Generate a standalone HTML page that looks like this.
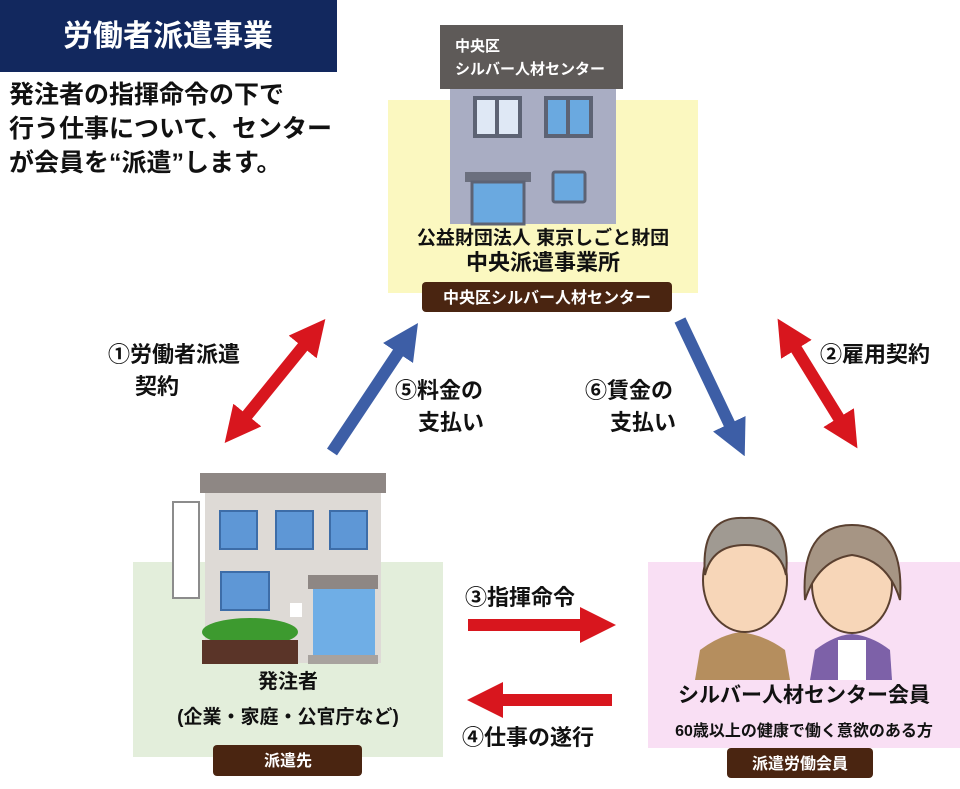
<!DOCTYPE html>
<html><head><meta charset="utf-8"><style>
body{margin:0;background:#fff}
svg text{font-family:"Liberation Sans","Noto Sans CJK JP",sans-serif;font-weight:bold}
</style></head><body>
<svg width="960" height="784" viewBox="0 0 960 784" xmlns="http://www.w3.org/2000/svg">
<defs>
<marker id="r" viewBox="0 0 10 10" refX="5" refY="5" markerWidth="3" markerHeight="3" orient="auto-start-reverse"><path d="M0,0L10,5L0,10z" fill="#d8161e"/></marker>
<marker id="b" viewBox="0 0 10 10" refX="5" refY="5" markerWidth="3" markerHeight="3" orient="auto-start-reverse"><path d="M0,0L10,5L0,10z" fill="#3d5ea6"/></marker>
</defs>
<rect x="0" y="0" width="337" height="72" fill="#12285e"/>
<text x="168" y="46" font-size="30" fill="#fff" text-anchor="middle">労働者派遣事業</text>
<text font-size="25" fill="#111"><tspan x="9" y="103">発注者の指揮命令の下で</tspan><tspan x="9" y="137">行う仕事について、センター</tspan><tspan x="9" y="171">が会員を“派遣”します。</tspan></text>

<rect x="388" y="100" width="310" height="193" fill="#fbf8c0"/>
<rect x="450" y="88" width="166" height="136" fill="#a9adc3"/>
<rect x="440" y="25" width="183" height="64" fill="#5e5a58"/>
<text font-size="15" fill="#fff"><tspan x="455" y="51">中央区</tspan><tspan x="455" y="74">シルバー人材センター</tspan></text>
<rect x="473" y="96" width="49" height="42" fill="#5d6374"/><rect x="477" y="100" width="18" height="34" fill="#dfe8f5"/><rect x="499" y="100" width="19" height="34" fill="#dfe8f5"/>
<rect x="544" y="96" width="49" height="42" fill="#5d6374"/><rect x="548" y="100" width="18" height="34" fill="#6aa9e0"/><rect x="570" y="100" width="19" height="34" fill="#6aa9e0"/>
<rect x="465" y="172" width="66" height="10" fill="#6b6f7e"/><rect x="472" y="182" width="52" height="42" fill="#6aa9e0" stroke="#5d6374" stroke-width="3"/>
<rect x="553" y="172" width="32" height="30" rx="2" fill="#6aa9e0" stroke="#5d6374" stroke-width="3"/>
<text x="543" y="244" font-size="19" fill="#111" text-anchor="middle">公益財団法人 東京しごと財団</text>
<text x="543" y="270" font-size="22" fill="#111" text-anchor="middle">中央派遣事業所</text>
<rect x="422" y="282" width="250" height="30" rx="4" fill="#4a2511"/>
<text x="547" y="303" font-size="16" fill="#fff" text-anchor="middle">中央区シルバー人材センター</text>

<rect x="133" y="562" width="310" height="195" fill="#e3eedb"/>
<rect x="200" y="473" width="186" height="20" fill="#8e8784"/>
<rect x="205" y="493" width="176" height="170" fill="#dedad6"/>
<rect x="173" y="502" width="26" height="96" fill="#fff" stroke="#8c8c8c" stroke-width="2"/>
<rect x="220" y="511" width="37" height="38" fill="#5e97d6" stroke="#3d6da8" stroke-width="2"/>
<rect x="276" y="511" width="37" height="38" fill="#5e97d6" stroke="#3d6da8" stroke-width="2"/>
<rect x="330" y="511" width="37" height="38" fill="#5e97d6" stroke="#3d6da8" stroke-width="2"/>
<rect x="221" y="572" width="48" height="38" fill="#5e97d6" stroke="#3d6da8" stroke-width="2"/>
<rect x="308" y="575" width="70" height="14" fill="#8e8784"/>
<rect x="313" y="589" width="62" height="66" fill="#6faee6"/>
<rect x="308" y="655" width="70" height="9" fill="#a8a29e"/>
<rect x="290" y="603" width="12" height="14" fill="#fff"/>
<ellipse cx="250" cy="632" rx="48" ry="14" fill="#3d9a2f"/>
<rect x="202" y="640" width="96" height="24" fill="#5a3428"/>
<text x="288" y="688" font-size="20" fill="#111" text-anchor="middle">発注者</text>
<text x="288" y="723" font-size="19" fill="#111" text-anchor="middle">(企業・家庭・公官庁など)</text>
<rect x="213" y="745" width="149" height="31" rx="4" fill="#4a2511"/>
<text x="288" y="766" font-size="16" fill="#fff" text-anchor="middle">派遣先</text>

<rect x="648" y="562" width="312" height="186" fill="#f9dff4"/>
<path d="M695,680 L700,650 Q720,635 740,632 Q765,635 785,650 L790,680z" fill="#b58e5e"/>
<path d="M810,680 L815,650 Q835,635 852,634 Q872,636 890,650 L892,680z" fill="#7d61a8"/>
<rect x="838" y="640" width="28" height="40" fill="#fff"/>
<ellipse cx="745" cy="580" rx="42" ry="52" fill="#f7d6b8" stroke="#5a4030" stroke-width="2"/>
<path d="M705,575 Q700,515 745,518 Q792,515 786,575 Q780,545 745,545 Q712,545 705,575z" fill="#a09a92" stroke="#5a4030" stroke-width="2"/>
<ellipse cx="852" cy="585" rx="40" ry="48" fill="#f7d6b8" stroke="#5a4030" stroke-width="2"/>
<path d="M805,600 Q800,525 852,525 Q905,525 900,600 Q888,560 852,555 Q818,560 805,600z" fill="#a69584" stroke="#5a4030" stroke-width="2"/>
<text x="804" y="702" font-size="21" fill="#111" text-anchor="middle">シルバー人材センター会員</text>
<text x="804" y="736" font-size="16" fill="#111" text-anchor="middle">60歳以上の健康で働く意欲のある方</text>
<rect x="727" y="748" width="146" height="30" rx="4" fill="#4a2511"/>
<text x="800" y="769" font-size="16" fill="#fff" text-anchor="middle">派遣労働会員</text>

<g stroke-width="12" fill="none">
<line x1="314" y1="333" x2="236" y2="429" stroke="#d8161e" marker-start="url(#r)" marker-end="url(#r)"/>
<line x1="787" y1="334" x2="848" y2="433" stroke="#d8161e" marker-start="url(#r)" marker-end="url(#r)"/>
<line x1="332" y1="452" x2="408" y2="338" stroke="#3d5ea6" marker-end="url(#b)"/>
<line x1="680" y1="320" x2="737" y2="440" stroke="#3d5ea6" marker-end="url(#b)"/>
<line x1="468" y1="625" x2="598" y2="625" stroke="#d8161e" marker-end="url(#r)"/>
<line x1="612" y1="700" x2="485" y2="700" stroke="#d8161e" marker-end="url(#r)"/>
</g>
<g font-size="22" fill="#111">
<text x="108" y="362">①労働者派遣</text>
<text x="135" y="394">契約</text>
<text x="395" y="398">⑤料金の</text>
<text x="418" y="430">支払い</text>
<text x="585" y="398">⑥賃金の</text>
<text x="610" y="430">支払い</text>
<text x="820" y="362">②雇用契約</text>
<text x="465" y="605">③指揮命令</text>
<text x="462" y="745">④仕事の遂行</text>
</g>
</svg>
</body></html>
